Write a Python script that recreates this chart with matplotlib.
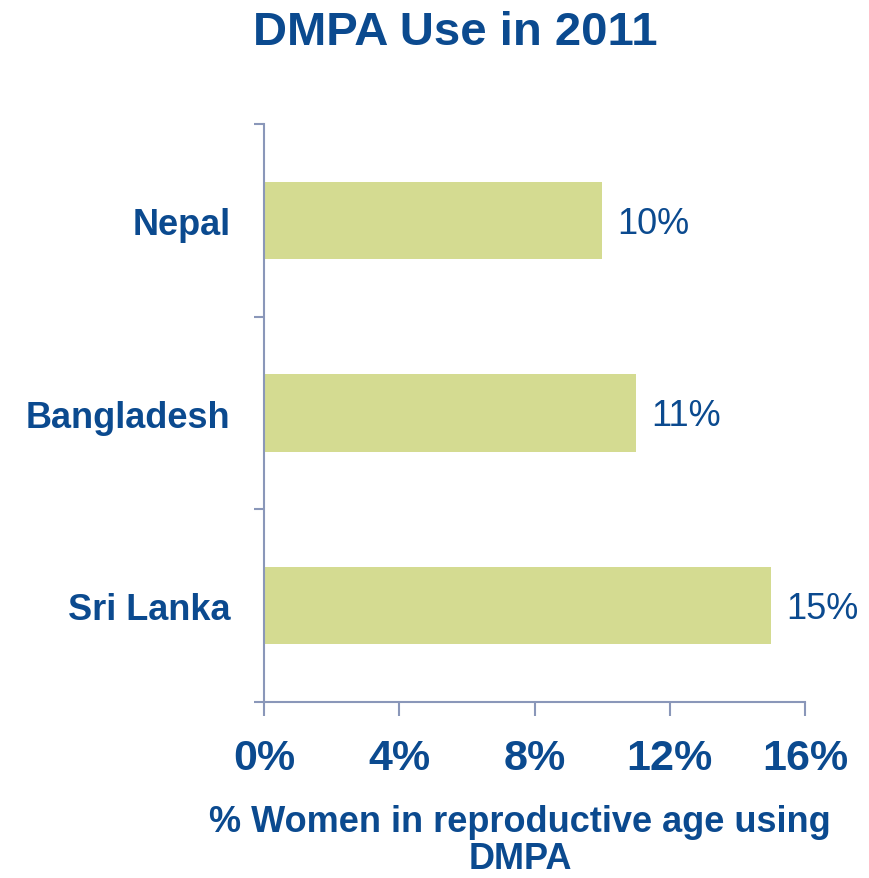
import matplotlib
matplotlib.use("Agg")
import matplotlib.pyplot as plt
from matplotlib.ticker import FixedLocator

countries = ["Nepal", "Bangladesh", "Sri Lanka"]
values = [10, 11, 15]
xticks = [0, 4, 8, 12, 16]
xtick_labels = ["0%", "4%", "8%", "12%", "16%"]
value_labels = ["10%", "11%", "15%"]

TEXT = "#0B4A8F"
BAR = "#D4DB91"
AXIS = "#8A97B9"

plt.rcParams['font.family'] = ['Liberation Sans', 'DejaVu Sans']

fig = plt.figure(figsize=(8.70, 8.79), dpi=100)
ax = fig.add_axes([264/870, 1-703/879, (805-264)/870, (703-125)/879])

ypos = list(range(len(countries)))
ax.barh(ypos, values, height=0.4, color=BAR, edgecolor='none')
ax.set_ylim(len(countries)-0.5, -0.5)
ax.set_xlim(0, 16)

for y, v, lab in zip(ypos, values, value_labels):
    ax.annotate(lab, xy=(v, y), xytext=(11, -2), textcoords='offset points',
                ha='left', va='center', fontsize=26, color=TEXT)

# y: boundary ticks (major), labels at centers (minor)
ax.yaxis.set_major_locator(FixedLocator([-0.5, 0.5, 1.5, 2.5]))
ax.set_yticklabels([])
ax.set_yticks(ypos, minor=True)
ax.set_yticklabels(countries, minor=True)
ax.tick_params(axis='y', which='minor', length=0, pad=24, labelsize=26, labelcolor=TEXT)
for t in ax.get_yticklabels(minor=True):
    t.set_fontweight('bold')
ax.tick_params(axis='y', which='major', length=7, width=1.5, color=AXIS, direction='out')

ax.set_xticks(xticks)
ax.set_xticklabels(xtick_labels, fontsize=31, fontweight='bold', color=TEXT)
ax.tick_params(axis='x', length=10, width=1.5, color=AXIS, direction='out', pad=16)

for s in ['top', 'right']:
    ax.spines[s].set_visible(False)
for s in ['left', 'bottom']:
    ax.spines[s].set_color(AXIS)
    ax.spines[s].set_linewidth(1.5)

fig.text(455/870, 1-33/879, "DMPA Use in 2011", ha='center', va='center',
         fontsize=34, fontweight='bold', color=TEXT)
fig.text(520/870, 1-841/879, "% Women in reproductive age using\nDMPA", ha='center', va='center',
         fontsize=26, fontweight='bold', color=TEXT, linespacing=1.05)

fig.savefig("out.png", dpi=100)
